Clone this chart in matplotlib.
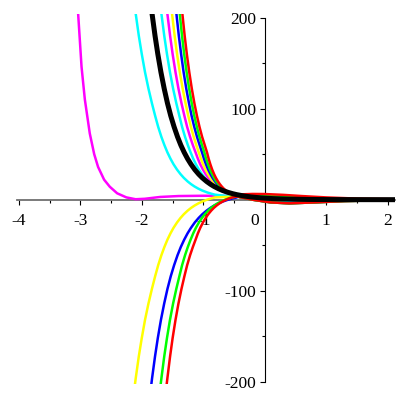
import matplotlib
matplotlib.use("Agg")
import matplotlib.pyplot as plt

plt.rcParams['font.family'] = ['Liberation Serif', 'DejaVu Serif']
plt.rcParams['axes.unicode_minus'] = False

# y levels where the steep parts were read (upper / lower families)
y_up = [215, 204, 180, 160, 140, 122, 106, 92, 80, 69, 60, 52, 45, 39, 33, 28, 24, 20, 17, 14.5, 12, 10, 8, 6.5, 5.5]
y_low = [-207, -196, -172, -152, -132, -114, -98, -84, -72, -61, -52, -44, -37, -31, -25, -20, -16, -12, -9, -6.5,
         -4, -2, 0, 1.5, 2.5]

# x positions of each curve at those levels
x_cyan_outer = [-2.119, -2.098, -2.048, -2.000, -1.947, -1.891, -1.835, -1.782, -1.733, -1.681, -1.632, -1.583,
                -1.533, -1.484, -1.426, -1.369, -1.316, -1.253, -1.197, -1.142, -1.077, -1.014, -0.937, -0.866, -0.808]
x_black = [-1.852, -1.832, -1.784, -1.739, -1.688, -1.635, -1.582, -1.528, -1.474, -1.418, -1.365, -1.310, -1.255,
           -1.200, -1.137, -1.074, -1.015, -0.945, -0.883, -0.823, -0.750, -0.681, -0.595, -0.516, -0.453]
x_cyan = [-1.700, -1.680, -1.634, -1.590, -1.541, -1.490, -1.438, -1.388, -1.344, -1.296, -1.251, -1.206, -1.163,
          -1.120, -1.070, -1.020, -0.974, -0.919, -0.870, -0.823, -0.766, -0.711, -0.644, -0.582, -0.532]
x_magenta = [-1.602, -1.583, -1.539, -1.498, -1.451, -1.403, -1.354, -1.306, -1.262, -1.214, -1.169, -1.125, -1.087,
             -1.049, -1.004, -0.960, -0.919, -0.870, -0.827, -0.784, -0.734, -0.685, -0.626, -0.570, -0.526]
x_yellow = [-1.525, -1.507, -1.465, -1.426, -1.381, -1.335, -1.288, -1.243, -1.200, -1.155, -1.113, -1.073, -1.037,
            -1.003, -0.962, -0.921, -0.884, -0.840, -0.800, -0.761, -0.715, -0.670, -0.616, -0.565, -0.525]
x_blue = [-1.452, -1.436, -1.397, -1.360, -1.319, -1.276, -1.232, -1.189, -1.146, -1.101, -1.059, -1.020, -0.988,
          -0.956, -0.919, -0.882, -0.848, -0.808, -0.771, -0.736, -0.694, -0.654, -0.604, -0.558, -0.521]
x_green = [-1.398, -1.382, -1.345, -1.310, -1.270, -1.229, -1.187, -1.145, -1.104, -1.061, -1.020, -0.982, -0.953,
           -0.923, -0.889, -0.855, -0.823, -0.786, -0.752, -0.719, -0.680, -0.643, -0.597, -0.554, -0.520]
x_red = [-1.355, -1.339, -1.302, -1.267, -1.227, -1.186, -1.144, -1.102, -1.061, -1.018, -0.976, -0.939, -0.912,
         -0.885, -0.854, -0.823, -0.794, -0.760, -0.729, -0.699, -0.664, -0.629, -0.587, -0.548, -0.517]

# right-hand tails (after the curves meet near x=-0.5)
tail_cyan_outer = ([-0.65, -0.5, -0.3, 0.0, 0.5, 1.0, 2.12], [4.3, 4.0, 2.0, -0.5, -1.5, -0.8, 0.0])
tail_black = ([-0.331, -0.221, -0.066, 0.129, 0.393, 0.727, 1.077, 1.6, 2.12], [4, 3, 2, 1.2, 0.6, 0.25, 0.1, 0.03, 0.01])
tail_cyan = ([-0.3, 0.0, 0.5, 1.0, 2.12], [2.5, 0.0, -1.0, -0.5, 0.0])
tail_magenta = ([-0.3, 0.0, 0.5, 1.0, 2.12], [3.0, 1.0, -0.5, -0.3, 0.0])
tail_yellow = ([-0.3, 0.0, 0.5, 1.0, 2.12], [3.6, 2.0, 0.5, 0.0, 0.0])
tail_blue = ([-0.3, 0.0, 0.5, 1.0, 2.12], [4.2, 3.0, 1.5, 0.6, 0.1])
tail_green = ([-0.3, 0.0, 0.4, 0.8, 1.3, 2.12], [4.8, 4.2, 3.0, 1.8, 0.9, 0.3])
tail_red = ([-0.4, -0.2, 0.0, 0.3, 0.6, 1.0, 1.5, 2.12], [5.8, 6.3, 6.2, 5.3, 4.0, 2.5, 1.2, 0.5])
tail_low = ([-0.45, -0.2, 0.1, 0.4, 0.8, 1.3, 2.12], [3.5, 0.0, -3.0, -4.0, -3.0, -1.5, -0.4])

# magenta curve on the far left
mag_left_x = [-3.045, -3.035, -2.98, -2.926, -2.846, -2.774, -2.711, -2.613, -2.52, -2.4, -2.25, -2.1, -1.95,
              -1.7, -1.4, -1.0, -0.5, -0.2, 0.2, 1.0, 2.12]
mag_left_y = [215, 204, 146, 110, 72.8, 50, 36, 22, 14.2, 7, 2.5, 0.5, 1, 3, 4, 4.3, 4.2, 3, 1, 0, 0]

x_ticks = [-4, -3, -2, -1, 0, 1, 2]
x_labels = ['-4', '-3', '-2', '-1', '', '1', '2']
y_ticks = [-200, -100, 100, 200]
y_labels = ['-200', '-100', '100', '200']

fig = plt.figure(figsize=(4, 4), dpi=100)
ax = fig.add_axes([0.0425, 0.04, 0.945, 0.925])

lw = 1.8
ax.plot(mag_left_x, mag_left_y, color='#ff00ff', lw=lw, zorder=3)

upper = [(x_cyan_outer, tail_cyan_outer, '#00ffff'),
         (x_cyan, tail_cyan, '#00ffff'),
         (x_magenta, tail_magenta, '#ff00ff'),
         (x_yellow, tail_yellow, '#ffff00'),
         (x_blue, tail_blue, '#0000ff'),
         (x_green, tail_green, '#00ff00'),
         (x_red, tail_red, '#ff0000')]
for xs, tail, col in upper:
    ax.plot(xs + tail[0], y_up + tail[1], color=col, lw=lw, zorder=3)

lower = [(x_cyan_outer, '#ffff00'), (x_black, '#0000ff'), (x_cyan, '#00ff00'), (x_magenta, '#ff0000')]
for xs, col in lower:
    ax.plot(xs + tail_low[0], y_low + tail_low[1], color=col, lw=lw, zorder=3)

ax.plot(x_black + tail_black[0], y_up + tail_black[1], color='black', lw=3.6, zorder=4)

ax.set_xlim(-4.03, 2.12)
ax.set_ylim(-202.5, 204)

for s in ['top', 'right']:
    ax.spines[s].set_visible(False)
ax.spines['left'].set_position(('data', 0))
ax.spines['bottom'].set_position(('data', 0))
ax.spines['left'].set_bounds(-200, 200)
ax.spines['bottom'].set_color('#707070')
ax.spines['bottom'].set_linewidth(1.3)
ax.spines['left'].set_linewidth(0.8)

ax.set_xticks(x_ticks)
ax.set_xticklabels(x_labels)
ax.set_xticks([-3.5, -2.5, -1.5, -0.5, 0.5, 1.5], minor=True)
ax.set_yticks(y_ticks)
ax.set_yticklabels(y_labels)
ax.set_yticks([-150, -50, 50, 150], minor=True)
ax.tick_params(axis='both', which='major', length=3.5, width=0.8, labelsize=12.5, direction='out')
ax.tick_params(axis='both', which='minor', length=2.5, width=0.8, direction='out')
ax.tick_params(axis='x', pad=6)
ax.tick_params(axis='y', pad=2.5)
ax.annotate('0', xy=(0, 0), xytext=(-7.2, -9.7), textcoords='offset points',
            ha='center', va='top', fontsize=12.5)

fig.savefig('out.png', dpi=100)
